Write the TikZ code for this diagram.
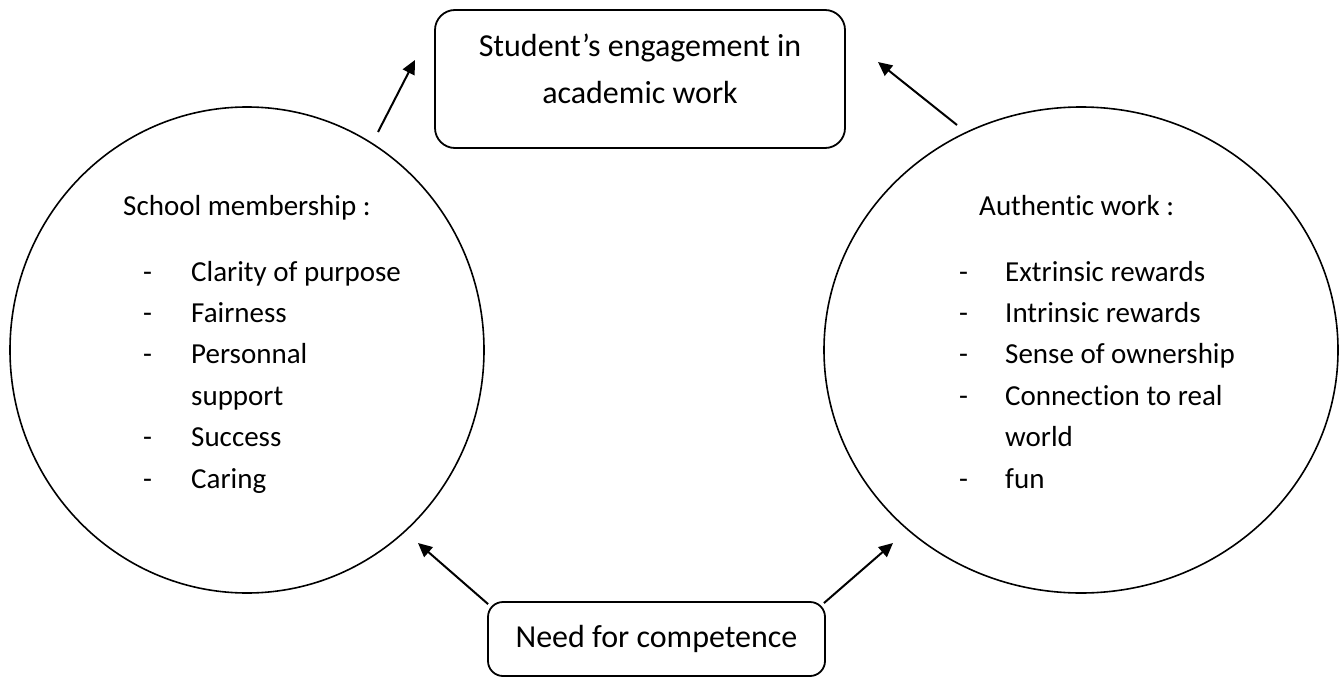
\documentclass[tikz,border=0pt]{standalone}
\usepackage{fontspec}
\setmainfont{Carlito}[Ligatures=NoCommon]
\usetikzlibrary{shapes.geometric,arrows.meta}
\begin{document}
\begin{tikzpicture}[x=1pt,y=-1pt,
  rbox/.style={draw, line width=1.8pt, inner sep=0pt},
  circ/.style={draw, ellipse, line width=1.6pt, inner sep=0pt},
  arr/.style={line width=2pt, -{Triangle[length=14pt,width=13pt]}},
  boxtext/.style={font=\fontsize{32}{46}\selectfont, anchor=base, inner sep=0pt},
  itemtext/.style={font=\fontsize{29}{41}\selectfont, anchor=base west, inner sep=0pt}]
\useasboundingbox (0,0) rectangle (1339,677);
% boxes
\node[rbox, rounded corners=20pt, minimum width=410pt, minimum height=138pt] (top) at (640,79) {};
\node[boxtext] (topA) at (640,57) {Student’s engagement in};
\node[boxtext] (topB) at (640,103) {academic work};
\node[rbox, rounded corners=15pt, minimum width=337pt, minimum height=74pt, font=\fontsize{32}{46}\selectfont] (need) at (656.5,639) {Need for competence};
% circles
\node[circ, minimum width=474pt, minimum height=486pt] (school) at (247,350) {};
\node[circ, minimum width=514pt, minimum height=486pt] (auth) at (1081,350) {};
% texts in circles
\node[itemtext] (schoolH) at (123,215) {School membership :};
\foreach \d/\t [count=\i] in {-/Clarity of purpose,-/Fairness,-/Personnal,/support,-/Success,-/Caring}{
  \node[itemtext] (Ld\i) at (143,{281+41.4*(\i-1)}) {\d};
  \node[itemtext] (Lt\i) at (191,{281+41.4*(\i-1)}) {\t};
}
\node[itemtext] (authH) at (979,215) {Authentic work :};
\foreach \d/\t [count=\i] in {-/Extrinsic rewards,-/Intrinsic rewards,-/Sense of ownership,-/Connection to real,/world,-/fun}{
  \node[itemtext] (Rd\i) at (959,{281+41.4*(\i-1)}) {\d};
  \node[itemtext] (Rt\i) at (1005,{281+41.4*(\i-1)}) {\t};
}
% arrow endpoints
\coordinate (a1s) at (378,132);
\coordinate (a1e) at (415,60);
\coordinate (a2s) at (957,125);
\coordinate (a2e) at (878,62);
\coordinate (a3e) at (418,543);
\coordinate (a4e) at (893,543);
\draw[arr] (a1s) -- (a1e);
\draw[arr] (a2s) -- (a2e);
\draw[arr] ([shift={(1,3)}]need.north west) -- (a3e);
\draw[arr] ([shift={(-2,2)}]need.north east) -- (a4e);
\end{tikzpicture}
\end{document}
